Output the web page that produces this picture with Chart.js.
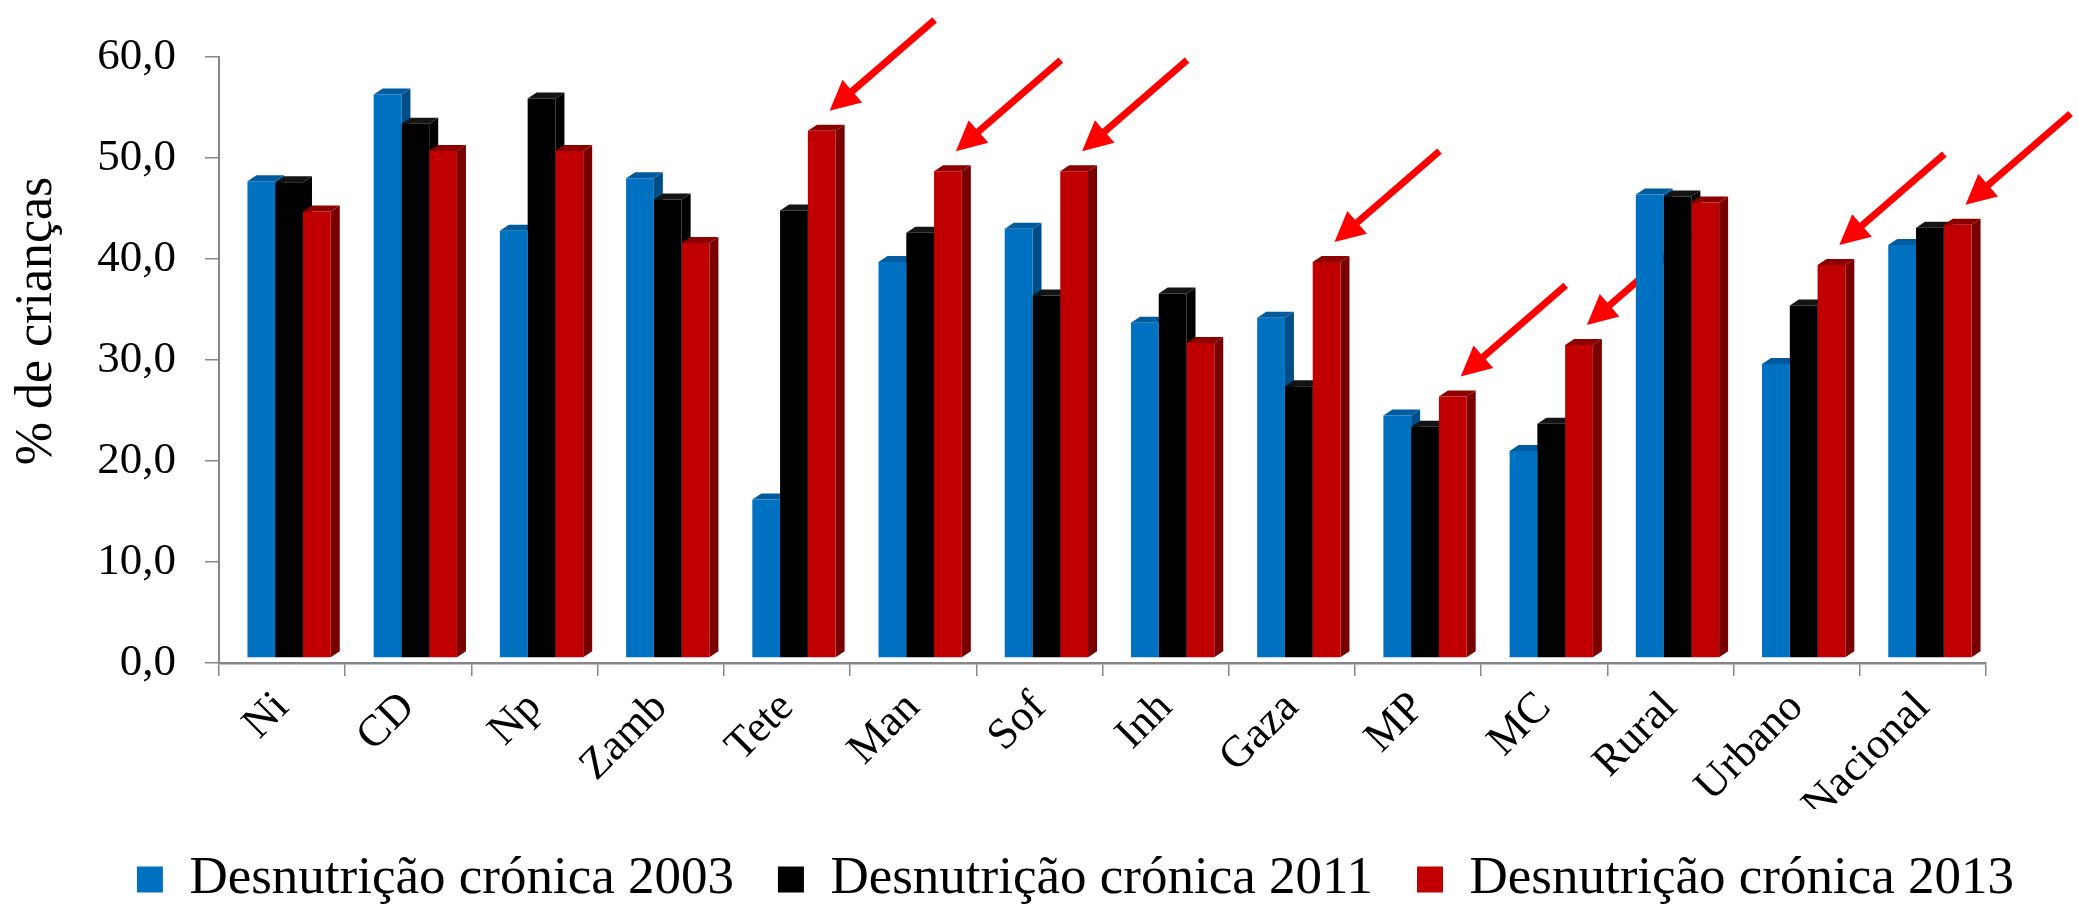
<!DOCTYPE html>
<html>
<head>
<meta charset="utf-8">
<style>
  html, body { margin: 0; padding: 0; background: #fff; }
  #caixa { width: 2079px; height: 916px; }
</style>
</head>
<body>
<div id="caixa"><canvas id="grafico" width="2079" height="916"></canvas></div>
<script src="https://cdn.jsdelivr.net/npm/chart.js"></script>
<script>
    // dados (% de criancas com desnutricao cronica)
    const categorias = ['Ni', 'CD', 'Np', 'Zamb', 'Tete', 'Man', 'Sof', 'Inh', 'Gaza', 'MP', 'MC', 'Rural', 'Urbano', 'Nacional'];
    const valores2003 = [47.2, 55.8, 42.3, 47.5, 15.7, 39.2, 42.5, 33.2, 33.7, 24.0, 20.5, 45.9, 29.1, 40.9];
    const valores2011 = [47.1, 52.9, 55.4, 45.4, 44.3, 42.1, 35.9, 36.1, 26.9, 22.9, 23.2, 45.7, 34.9, 42.6];
    const valores2013 = [44.2, 50.2, 50.2, 41.1, 52.2, 48.2, 48.2, 31.2, 39.2, 25.9, 31.0, 45.1, 38.9, 42.9];
    const nomesSeries = ['Desnutrição crónica 2003', 'Desnutrição crónica 2011', 'Desnutrição crónica 2013'];
    const eixoY = { min: 0, max: 60, passo: 10 };
    // categorias assinaladas com seta vermelha
    const comSeta = ['Tete', 'Man', 'Sof', 'Gaza', 'MP', 'MC', 'Urbano', 'Nacional'];

    const fonte = "'Liberation Serif', 'Times New Roman', serif";
    const corFrente = ['#0070C0', '#000000', '#C00000'];
    const corLado = ['#004E88', '#000000', '#780000'];
    const corTopo = ['#005C9F', '#141414', '#8C0000'];
    const prof = { dx: 9, dy: -6 };      // profundidade das barras "3D"
    const desloc = { x: 7, y: -5 };      // barras ficam no meio do "chao"

    function desenharSeta(ctx, x, y) {
        const tx = x + 105, ty = y - 91;
        const ang = Math.atan2(ty - y, tx - x);
        const cab = 30, larg = 15;
        const bx = x + Math.cos(ang) * cab, by = y + Math.sin(ang) * cab;
        ctx.strokeStyle = '#FF0000';
        ctx.fillStyle = '#FF0000';
        ctx.lineWidth = 7;
        ctx.beginPath();
        ctx.moveTo(tx, ty);
        ctx.lineTo(x + Math.cos(ang) * (cab - 4), y + Math.sin(ang) * (cab - 4));
        ctx.stroke();
        ctx.beginPath();
        ctx.moveTo(x, y);
        ctx.lineTo(bx + Math.sin(ang) * larg, by - Math.cos(ang) * larg);
        ctx.lineTo(bx - Math.sin(ang) * larg, by + Math.cos(ang) * larg);
        ctx.closePath();
        ctx.fill();
    }

    const efeito3d = {
        id: 'efeito3d',
        beforeDatasetsDraw(chart) {
            const ctx = chart.ctx;
            ctx.save();
            ctx.translate(desloc.x, desloc.y);
            // setas ficam atras das barras
            const barrasVermelhas = chart.getDatasetMeta(2).data;
            categorias.forEach((c, i) => {
                if (!comSeta.includes(c)) return;
                const b = barrasVermelhas[i];
                desenharSeta(ctx, b.x + b.width / 2 - 6, b.y - 20);
            });
            chart.data.datasets.forEach((ds, k) => {
                chart.getDatasetMeta(k).data.forEach(b => {
                    const l = b.x - b.width / 2, r = b.x + b.width / 2;
                    ctx.fillStyle = corLado[k];
                    ctx.beginPath();
                    ctx.moveTo(r, b.y);
                    ctx.lineTo(r + prof.dx, b.y + prof.dy);
                    ctx.lineTo(r + prof.dx, b.base + prof.dy);
                    ctx.lineTo(r, b.base);
                    ctx.closePath();
                    ctx.fill();
                    ctx.fillStyle = corTopo[k];
                    ctx.beginPath();
                    ctx.moveTo(l, b.y);
                    ctx.lineTo(l + prof.dx, b.y + prof.dy);
                    ctx.lineTo(r + prof.dx, b.y + prof.dy);
                    ctx.lineTo(r, b.y);
                    ctx.closePath();
                    ctx.fill();
                });
            });
        },
        afterDatasetsDraw(chart) {
            chart.ctx.restore();
        }
    };

    const dados = {
        labels: categorias,
        datasets: [valores2003, valores2011, valores2013].map((v, k) => ({
            label: nomesSeries[k],
            data: v,
            backgroundColor: corFrente[k],
            borderWidth: 0,
            categoryPercentage: 0.66,
            barPercentage: 1.0
        }))
    };

    new Chart(document.getElementById('grafico'), {
        type: 'bar',
        data: dados,
        plugins: [efeito3d],
        options: {
            responsive: false,
            animation: false,
            devicePixelRatio: 1,
            layout: { padding: { top: 57, left: 0, right: 21, bottom: 0 } },
            plugins: {
                tooltip: { enabled: false },
                legend: {
                    position: 'bottom',
                    align: 'end',
                    labels: {
                        boxWidth: 26,
                        boxHeight: 26,
                        padding: 44,
                        color: '#000',
                        font: { family: fonte, size: 53 }
                    }
                }
            },
            scales: {
                x: {
                    grid: { offset: true, drawOnChartArea: false, drawTicks: true, tickLength: 13, color: '#868686', lineWidth: 1.5 },
                    border: { color: '#868686', width: 2.5 },
                    ticks: {
                        color: '#000',
                        font: { family: fonte, size: 44 },
                        minRotation: 45,
                        maxRotation: 45,
                        padding: 6
                    },
                    afterFit(s) { s.height = 146; }
                },
                y: {
                    min: eixoY.min,
                    max: eixoY.max,
                    grid: { drawOnChartArea: false, drawTicks: true, tickLength: 14, color: '#868686', lineWidth: 1.5 },
                    border: { color: '#868686', width: 2 },
                    ticks: {
                        stepSize: eixoY.passo,
                        color: '#000',
                        padding: 29,
                        font: { family: fonte, size: 45 },
                        callback: v => v.toFixed(1).replace('.', ',')
                    },
                    title: {
                        display: true,
                        text: '\u00a0\u00a0\u00a0\u00a0\u00a0\u00a0% de crianças',
                        color: '#000',
                        font: { family: fonte, size: 52 },
                        padding: { top: 6, bottom: 0 }
                    },
                    afterFit(s) { s.width = 219; }
                },
                margemDireita: {
                    position: 'right',
                    grid: { display: false },
                    ticks: { display: false },
                    border: { display: false },
                    afterFit(s) { s.width = 72; }
                }
            }
        }
    });
</script>
</body>
</html>
